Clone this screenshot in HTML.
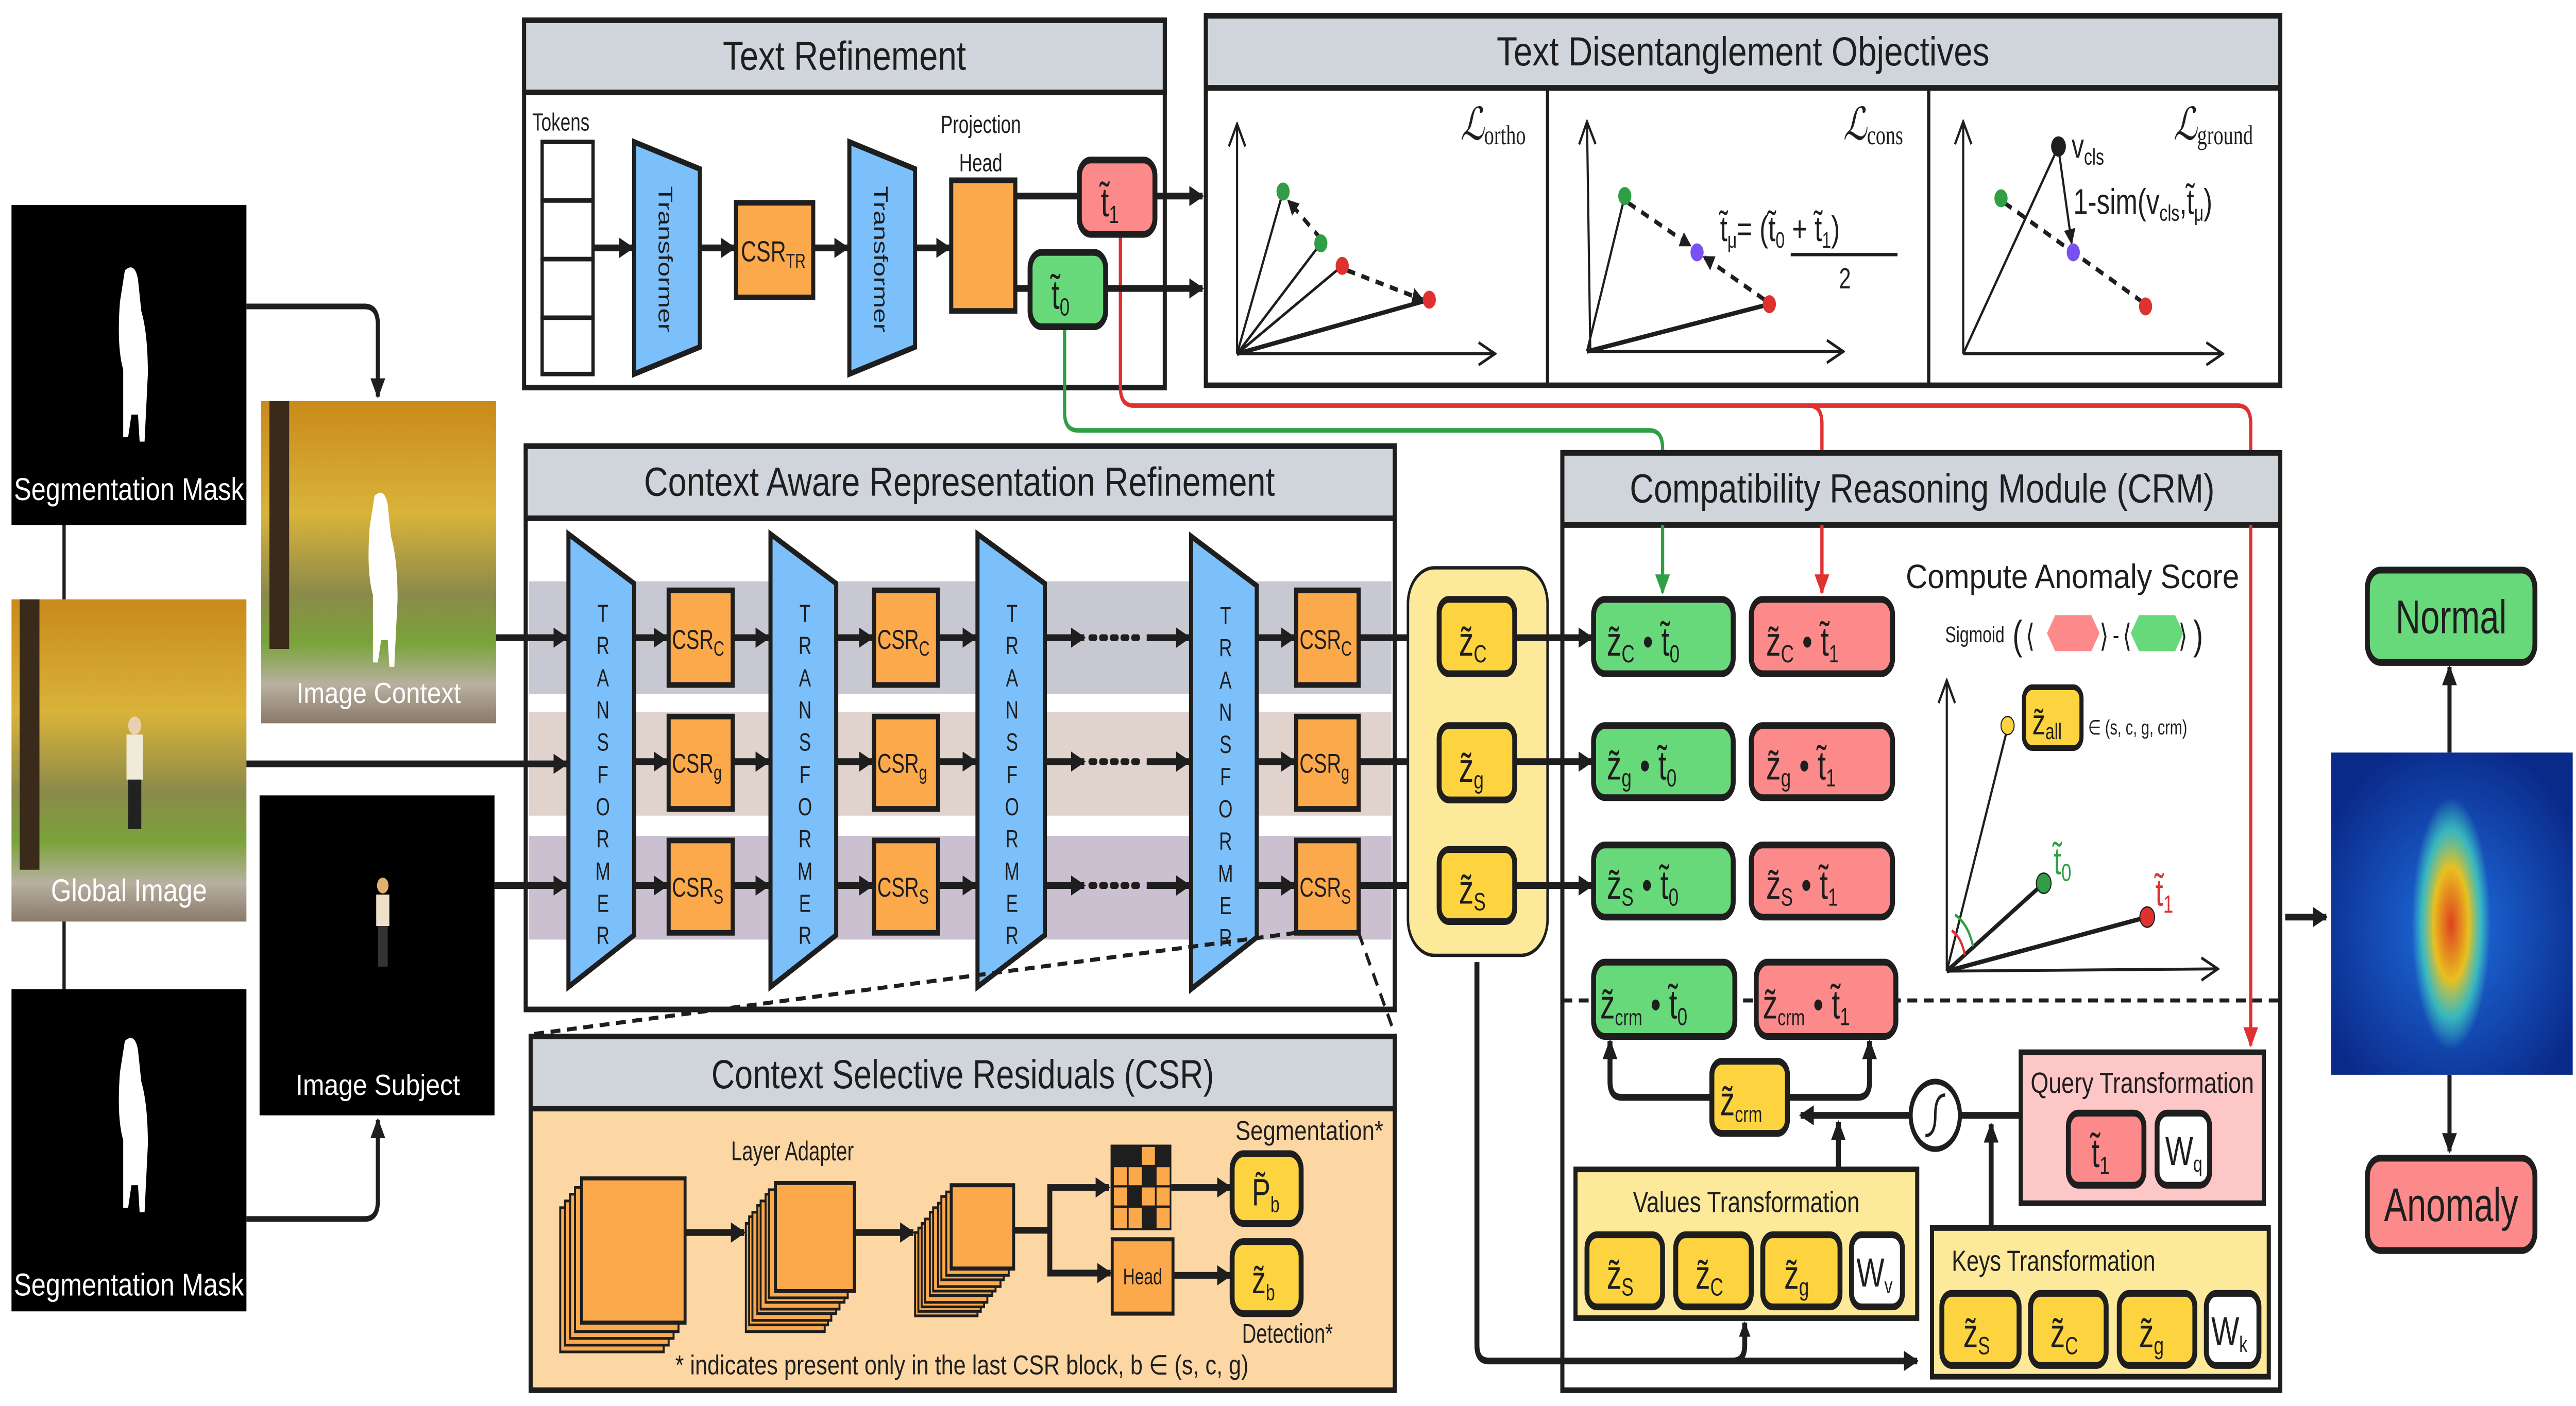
<!DOCTYPE html>
<html><head><meta charset="utf-8"><style>
html,body{margin:0;padding:0;background:#fff;width:100%;height:100%;overflow:hidden;}
svg{display:block;position:fixed;left:0;top:0;width:100vw;height:100vh;}
text{font-family:"Liberation Sans",sans-serif;fill:#1e1e1e;}
</style></head><body>
<svg viewBox="0 0 1568 624" preserveAspectRatio="none" xmlns="http://www.w3.org/2000/svg">
<defs>
<marker id="ah" viewBox="0 0 10 10" refX="9" refY="5" markerWidth="9" markerHeight="9" markerUnits="userSpaceOnUse" orient="auto"><path d="M0,0 L10,5 L0,10 z" fill="#1e1e1e"/></marker>
<marker id="ahs" viewBox="0 0 10 10" refX="9" refY="5" markerWidth="7" markerHeight="7" markerUnits="userSpaceOnUse" orient="auto"><path d="M0,0 L10,5 L0,10 z" fill="#1e1e1e"/></marker>
<marker id="ag" viewBox="0 0 10 10" refX="9" refY="5" markerWidth="9" markerHeight="9" markerUnits="userSpaceOnUse" orient="auto"><path d="M0,0 L10,5 L0,10 z" fill="#2f9e44"/></marker>
<marker id="ar" viewBox="0 0 10 10" refX="9" refY="5" markerWidth="9" markerHeight="9" markerUnits="userSpaceOnUse" orient="auto"><path d="M0,0 L10,5 L0,10 z" fill="#e03131"/></marker>
<marker id="ao" viewBox="0 0 12 12" refX="11" refY="6" markerWidth="12" markerHeight="12" markerUnits="userSpaceOnUse" orient="auto"><path d="M1,1 L11,6 L1,11" fill="none" stroke="#1e1e1e" stroke-width="1.3"/></marker>
<linearGradient id="autumn" x1="0" y1="0" x2="0" y2="1">
<stop offset="0" stop-color="#c98a1a"/><stop offset="0.35" stop-color="#d9b33a"/><stop offset="0.6" stop-color="#8a8a4a"/><stop offset="0.75" stop-color="#7aa33a"/><stop offset="0.88" stop-color="#b8b0a0"/><stop offset="1" stop-color="#8a7a6a"/></linearGradient>
<radialGradient id="heat" cx="0.5" cy="0.55" r="0.6"><stop offset="0" stop-color="#1f6fe0"/><stop offset="1" stop-color="#0a2a8a"/></radialGradient>
<radialGradient id="hot" cx="0.5" cy="0.5" r="0.5"><stop offset="0" stop-color="#e04020"/><stop offset="0.45" stop-color="#e8c020"/><stop offset="0.75" stop-color="#40d0c0" stop-opacity="0.8"/><stop offset="1" stop-color="#40d0c0" stop-opacity="0"/></radialGradient>
</defs>

<rect x="7" y="91" width="143" height="142" fill="#000"/>
<path d="M76,120 q6,-4 8,4 l2,14 q4,10 4,28 l-2,30 h-3 l-1,-12 h-4 l-2,10 h-3 l0,-30 q-4,-10 -2,-30 z" fill="#fff"/>
<text x="78.5" y="222" text-anchor="middle" font-size="14" style="fill:#fff" textLength="140" lengthAdjust="spacingAndGlyphs">Segmentation Mask</text>
<line x1="39" y1="233" x2="39" y2="266" stroke="#1e1e1e" stroke-width="2"/>
<rect x="7" y="266" width="143" height="143" fill="url(#autumn)"/>
<rect x="12" y="266" width="12" height="120" fill="#3a2a1a"/>
<circle cx="82" cy="322" r="4" fill="#e8d0b0"/><rect x="77" y="326" width="10" height="20" fill="#f0ead8"/><rect x="78" y="346" width="8" height="22" fill="#222"/>
<text x="78.5" y="400" text-anchor="middle" font-size="14" style="fill:#fff" textLength="95" lengthAdjust="spacingAndGlyphs">Global Image</text>
<line x1="39" y1="409" x2="39" y2="439" stroke="#1e1e1e" stroke-width="2"/>
<rect x="7" y="439" width="143" height="143" fill="#000"/>
<path d="M76,462 q6,-4 8,4 l2,14 q4,10 4,28 l-2,30 h-3 l-1,-12 h-4 l-2,10 h-3 l0,-30 q-4,-10 -2,-30 z" fill="#fff"/>
<text x="78.5" y="575" text-anchor="middle" font-size="14" style="fill:#fff" textLength="140" lengthAdjust="spacingAndGlyphs">Segmentation Mask</text>

<rect x="159" y="178" width="143" height="143" fill="url(#autumn)"/>
<rect x="164" y="178" width="12" height="110" fill="#3a2a1a"/>
<path d="M228,220 q6,-4 8,4 l2,14 q4,10 4,28 l-2,30 h-3 l-1,-12 h-4 l-2,10 h-3 l0,-30 q-4,-10 -2,-30 z" fill="#fff"/>
<text x="230.5" y="312" text-anchor="middle" font-size="13" style="fill:#fff" textLength="100" lengthAdjust="spacingAndGlyphs">Image Context</text>
<rect x="158" y="353" width="143" height="142" fill="#000"/>
<circle cx="233" cy="393" r="3.5" fill="#e0b070"/><rect x="229" y="397" width="8" height="14" fill="#eee0c8"/><rect x="230" y="411" width="6" height="18" fill="#333"/>
<text x="230" y="486" text-anchor="middle" font-size="13" style="fill:#fff" textLength="100" lengthAdjust="spacingAndGlyphs">Image Subject</text>

<path d="M150,136 H222 Q230,136 230,144 V176" fill="none" stroke="#1e1e1e" stroke-width="2.5" marker-end="url(#ah)"/>
<path d="M150,541 H222 Q230,541 230,533 V497" fill="none" stroke="#1e1e1e" stroke-width="2.5" marker-end="url(#ah)"/>

<rect x="319" y="9" width="390" height="163" fill="#fff" stroke="#1e1e1e" stroke-width="2.5"/>
<rect x="319" y="9" width="390" height="32" fill="#d0d5dc" stroke="#1e1e1e" stroke-width="2.5"/>
<text x="514" y="31" text-anchor="middle" font-size="18" textLength="148" lengthAdjust="spacingAndGlyphs">Text Refinement</text>
<text x="324" y="58" font-size="11">Tokens</text>
<g fill="#fff" stroke="#1e1e1e" stroke-width="2"><rect x="330" y="63" width="31" height="26"/><rect x="330" y="89" width="31" height="26"/><rect x="330" y="115" width="31" height="26"/><rect x="330" y="141" width="31" height="25"/></g>
<polygon points="386,63 426,75 426,154 386,166" fill="#7cc0fb" stroke="#1e1e1e" stroke-width="2.5"/>
<text transform="translate(401,115) rotate(90)" text-anchor="middle" font-size="12">Transformer</text>
<rect x="448" y="90" width="47" height="42" fill="#fca94b" stroke="#1e1e1e" stroke-width="2.5"/>
<text x="451" y="116" font-size="13">CSR<tspan font-size="9" dy="3">TR</tspan></text>
<polygon points="517,63 557,75 557,154 517,166" fill="#7cc0fb" stroke="#1e1e1e" stroke-width="2.5"/>
<text transform="translate(532,115) rotate(90)" text-anchor="middle" font-size="12">Transformer</text>
<text x="597" y="59" text-anchor="middle" font-size="11">Projection</text>
<text x="597" y="76" text-anchor="middle" font-size="11">Head</text>
<rect x="579" y="80" width="39" height="58" fill="#fca94b" stroke="#1e1e1e" stroke-width="2.5"/>
<g stroke="#1e1e1e" stroke-width="3" marker-end="url(#ah)"><line x1="361" y1="110" x2="385" y2="110"/><line x1="426" y1="110" x2="447" y2="110"/><line x1="495" y1="110" x2="516" y2="110"/><line x1="557" y1="110" x2="578" y2="110"/></g>
<line x1="618" y1="87" x2="657" y2="87" stroke="#1e1e1e" stroke-width="3"/>
<line x1="618" y1="128" x2="627" y2="128" stroke="#1e1e1e" stroke-width="3"/>
<path d="M682,104 V172 Q682,180 690,180 H1362 Q1370,180 1370,188 V463" fill="none" stroke="#e03131" stroke-width="2" marker-end="url(#ar)"/>
<path d="M1101,180 Q1109,180 1109,188 V263" fill="none" stroke="#e03131" stroke-width="2" marker-end="url(#ar)"/>
<path d="M648,145 V183 Q648,191 656,191 H1004 Q1012,191 1012,199 V263" fill="none" stroke="#2f9e44" stroke-width="2" marker-end="url(#ag)"/>
<rect x="657" y="71" width="46" height="33" rx="7" fill="#fc8a8a" stroke="#1e1e1e" stroke-width="3"/>
<text x="670" y="96" font-size="18">t̃<tspan font-size="11" dy="3">1</tspan></text>
<rect x="627" y="112" width="46" height="33" rx="7" fill="#68d97a" stroke="#1e1e1e" stroke-width="3"/>
<text x="640" y="137" font-size="18">t̃<tspan font-size="11" dy="3">0</tspan></text>
<g stroke="#1e1e1e" stroke-width="3" marker-end="url(#ah)"><line x1="703" y1="87" x2="732" y2="87"/><line x1="673" y1="128" x2="732" y2="128"/></g>

<rect x="734" y="7" width="654" height="164" fill="#fff" stroke="#1e1e1e" stroke-width="2.5"/>
<rect x="734" y="7" width="654" height="32" fill="#d0d5dc" stroke="#1e1e1e" stroke-width="2.5"/>
<text x="1061" y="29" text-anchor="middle" font-size="18" textLength="300" lengthAdjust="spacingAndGlyphs">Text Disentanglement Objectives</text>
<line x1="942" y1="39" x2="942" y2="171" stroke="#1e1e1e" stroke-width="2"/>
<line x1="1174" y1="39" x2="1174" y2="171" stroke="#1e1e1e" stroke-width="2"/>
<g stroke="#1e1e1e" stroke-width="1.3" fill="none">
<line x1="753" y1="157" x2="753" y2="55" marker-end="url(#ao)"/><line x1="753" y1="157" x2="910" y2="157" marker-end="url(#ao)"/>
<line x1="753" y1="157" x2="781" y2="85"/><line x1="753" y1="157" x2="804" y2="108"/><line x1="753" y1="157" x2="817" y2="118"/><line x1="753" y1="157" x2="870" y2="133" stroke-width="2"/>
<line x1="968" y1="156" x2="966" y2="54" marker-end="url(#ao)"/><line x1="966" y1="156" x2="1122" y2="156" marker-end="url(#ao)"/>
<line x1="966" y1="156" x2="989" y2="87"/><line x1="966" y1="156" x2="1077" y2="135" stroke-width="2"/>
<line x1="1195" y1="157" x2="1195" y2="54" marker-end="url(#ao)"/><line x1="1195" y1="157" x2="1353" y2="157" marker-end="url(#ao)"/>
<line x1="1195" y1="157" x2="1253" y2="65"/>
</g>
<g stroke="#1e1e1e" stroke-width="2" stroke-dasharray="5,4" fill="none">
<line x1="804" y1="106" x2="784" y2="89" marker-end="url(#ahs)"/><line x1="820" y1="120" x2="866" y2="133" marker-end="url(#ahs)"/>
<line x1="991" y1="90" x2="1029" y2="109" marker-end="url(#ahs)"/><line x1="1074" y1="133" x2="1037" y2="114" marker-end="url(#ahs)"/>
<line x1="1220" y1="90" x2="1304" y2="134"/>
</g>
<line x1="1253" y1="66" x2="1261" y2="108" stroke="#1e1e1e" stroke-width="1.3" marker-end="url(#ahs)"/>
<circle cx="781" cy="85" r="4" fill="#2f9e44"/><circle cx="804" cy="108" r="4" fill="#2f9e44"/><circle cx="817" cy="118" r="4" fill="#e03131"/><circle cx="870" cy="133" r="4" fill="#e03131"/>
<circle cx="989" cy="87" r="4" fill="#2f9e44"/><circle cx="1033" cy="112" r="4" fill="#7950f2"/><circle cx="1077" cy="135" r="4" fill="#e03131"/>
<circle cx="1253" cy="65" r="4.5" fill="#1e1e1e"/><circle cx="1218" cy="88" r="4" fill="#2f9e44"/><circle cx="1262" cy="112" r="4" fill="#7950f2"/><circle cx="1306" cy="136" r="4" fill="#e03131"/>
<text x="889" y="62" font-size="20" font-style="italic" style="font-family:'Liberation Serif',serif">ℒ<tspan font-size="12" font-style="normal" dy="2">ortho</tspan></text>
<text x="1122" y="62" font-size="20" font-style="italic" style="font-family:'Liberation Serif',serif">ℒ<tspan font-size="12" font-style="normal" dy="2">cons</tspan></text>
<text x="1323" y="62" font-size="20" font-style="italic" style="font-family:'Liberation Serif',serif">ℒ<tspan font-size="12" font-style="normal" dy="2">ground</tspan></text>
<text x="1047" y="107" font-size="16">t̃<tspan font-size="10" dy="3">μ</tspan><tspan dy="-3">= (t̃</tspan><tspan font-size="10" dy="3">0</tspan><tspan dy="-3"> + t̃</tspan><tspan font-size="10" dy="3">1</tspan><tspan dy="-3">)</tspan></text>
<line x1="1090" y1="113" x2="1155" y2="113" stroke="#1e1e1e" stroke-width="1.5"/>
<text x="1123" y="128" text-anchor="middle" font-size="13">2</text>
<text x="1261" y="70" font-size="15">v<tspan font-size="10" dy="3">cls</tspan></text>
<text x="1262" y="95" font-size="16">1-sim(v<tspan font-size="10" dy="3">cls</tspan><tspan dy="-3">,t̃</tspan><tspan font-size="10" dy="3">μ</tspan><tspan dy="-3">)</tspan></text>

<rect x="320" y="198" width="529" height="250" fill="#fff" stroke="#1e1e1e" stroke-width="2.5"/>
<rect x="322" y="258" width="525" height="50" fill="#c8c8d2"/>
<rect x="322" y="316" width="525" height="46" fill="#e0d2cc"/>
<rect x="322" y="371" width="525" height="46" fill="#cbc0d0"/>
<rect x="320" y="198" width="529" height="32" fill="#d0d5dc" stroke="#1e1e1e" stroke-width="2.5"/>
<text x="584" y="220" text-anchor="middle" font-size="18" textLength="384" lengthAdjust="spacingAndGlyphs">Context Aware Representation Refinement</text>
<g stroke="#1e1e1e" stroke-width="2.5" fill="#7cc0fb">
<polygon points="346,237 386,259 386,415 346,438"/><polygon points="469,237 509,259 509,415 469,438"/><polygon points="595,237 636,259 636,415 595,438"/><polygon points="725,238 765,260 765,416 725,439"/>
</g>
<g font-size="11" text-anchor="middle">
<text><tspan x="367" y="276">T</tspan><tspan x="367" dy="14.3">R</tspan><tspan x="367" dy="14.3">A</tspan><tspan x="367" dy="14.3">N</tspan><tspan x="367" dy="14.3">S</tspan><tspan x="367" dy="14.3">F</tspan><tspan x="367" dy="14.3">O</tspan><tspan x="367" dy="14.3">R</tspan><tspan x="367" dy="14.3">M</tspan><tspan x="367" dy="14.3">E</tspan><tspan x="367" dy="14.3">R</tspan></text>
<text><tspan x="490" y="276">T</tspan><tspan x="490" dy="14.3">R</tspan><tspan x="490" dy="14.3">A</tspan><tspan x="490" dy="14.3">N</tspan><tspan x="490" dy="14.3">S</tspan><tspan x="490" dy="14.3">F</tspan><tspan x="490" dy="14.3">O</tspan><tspan x="490" dy="14.3">R</tspan><tspan x="490" dy="14.3">M</tspan><tspan x="490" dy="14.3">E</tspan><tspan x="490" dy="14.3">R</tspan></text>
<text><tspan x="616" y="276">T</tspan><tspan x="616" dy="14.3">R</tspan><tspan x="616" dy="14.3">A</tspan><tspan x="616" dy="14.3">N</tspan><tspan x="616" dy="14.3">S</tspan><tspan x="616" dy="14.3">F</tspan><tspan x="616" dy="14.3">O</tspan><tspan x="616" dy="14.3">R</tspan><tspan x="616" dy="14.3">M</tspan><tspan x="616" dy="14.3">E</tspan><tspan x="616" dy="14.3">R</tspan></text>
<text><tspan x="746" y="277">T</tspan><tspan x="746" dy="14.3">R</tspan><tspan x="746" dy="14.3">A</tspan><tspan x="746" dy="14.3">N</tspan><tspan x="746" dy="14.3">S</tspan><tspan x="746" dy="14.3">F</tspan><tspan x="746" dy="14.3">O</tspan><tspan x="746" dy="14.3">R</tspan><tspan x="746" dy="14.3">M</tspan><tspan x="746" dy="14.3">E</tspan><tspan x="746" dy="14.3">R</tspan></text>
</g>
<g fill="#fca94b" stroke="#1e1e1e" stroke-width="2.5">
<rect x="407" y="262" width="39" height="42"/><rect x="532" y="262" width="39" height="42"/><rect x="789" y="262" width="38" height="42"/>
<rect x="407" y="318" width="39" height="41"/><rect x="532" y="318" width="39" height="41"/><rect x="789" y="318" width="38" height="41"/>
<rect x="407" y="373" width="39" height="41"/><rect x="532" y="373" width="39" height="41"/><rect x="789" y="373" width="38" height="41"/>
</g>
<g font-size="12">
<text x="409" y="288">CSR<tspan font-size="9" dy="3">C</tspan></text><text x="534" y="288">CSR<tspan font-size="9" dy="3">C</tspan></text><text x="791" y="288">CSR<tspan font-size="9" dy="3">C</tspan></text>
<text x="409" y="343">CSR<tspan font-size="9" dy="3">g</tspan></text><text x="534" y="343">CSR<tspan font-size="9" dy="3">g</tspan></text><text x="791" y="343">CSR<tspan font-size="9" dy="3">g</tspan></text>
<text x="409" y="398">CSR<tspan font-size="9" dy="3">S</tspan></text><text x="534" y="398">CSR<tspan font-size="9" dy="3">S</tspan></text><text x="791" y="398">CSR<tspan font-size="9" dy="3">S</tspan></text>
</g>
<g stroke="#1e1e1e" stroke-width="3" marker-end="url(#ah)">
<line x1="302" y1="283" x2="345" y2="283"/><line x1="150" y1="339" x2="345" y2="339"/><line x1="301" y1="393" x2="345" y2="393"/>
<line x1="386" y1="283" x2="406" y2="283"/><line x1="446" y1="283" x2="468" y2="283"/><line x1="509" y1="283" x2="531" y2="283"/><line x1="571" y1="283" x2="594" y2="283"/><line x1="636" y1="283" x2="660" y2="283"/><line x1="698" y1="283" x2="724" y2="283"/><line x1="765" y1="283" x2="788" y2="283"/><line x1="827" y1="283" x2="875" y2="283"/>
<line x1="386" y1="338" x2="406" y2="338"/><line x1="446" y1="338" x2="468" y2="338"/><line x1="509" y1="338" x2="531" y2="338"/><line x1="571" y1="338" x2="594" y2="338"/><line x1="636" y1="338" x2="660" y2="338"/><line x1="698" y1="338" x2="724" y2="338"/><line x1="765" y1="338" x2="788" y2="338"/><line x1="827" y1="338" x2="875" y2="338"/>
<line x1="386" y1="393" x2="406" y2="393"/><line x1="446" y1="393" x2="468" y2="393"/><line x1="509" y1="393" x2="531" y2="393"/><line x1="571" y1="393" x2="594" y2="393"/><line x1="636" y1="393" x2="660" y2="393"/><line x1="698" y1="393" x2="724" y2="393"/><line x1="765" y1="393" x2="788" y2="393"/><line x1="827" y1="393" x2="875" y2="393"/>
</g>
<g stroke="#1e1e1e" stroke-width="3" stroke-dasharray="2.5,4" stroke-linecap="round"><line x1="664" y1="283" x2="696" y2="283"/><line x1="664" y1="338" x2="696" y2="338"/><line x1="664" y1="393" x2="696" y2="393"/></g>
<g stroke="#1e1e1e" stroke-width="1.8" stroke-dasharray="6,4"><line x1="789" y1="414" x2="324" y2="459"/><line x1="827" y1="414" x2="849" y2="459"/></g>

<rect x="323" y="460" width="526" height="157" fill="#fcd7a4" stroke="#1e1e1e" stroke-width="2.5"/>
<rect x="323" y="460" width="526" height="32" fill="#d0d5dc" stroke="#1e1e1e" stroke-width="2.5"/>
<text x="586" y="483" text-anchor="middle" font-size="18" textLength="306" lengthAdjust="spacingAndGlyphs">Context Selective Residuals (CSR)</text>
<text x="445" y="515" font-size="12">Layer Adapter</text>
<g fill="#fca94b" stroke="#1e1e1e" stroke-width="1.2">
<rect x="341" y="536" width="63" height="64"/><rect x="344" y="533" width="63" height="64"/><rect x="347" y="530" width="63" height="64"/><rect x="350" y="527" width="63" height="64"/><rect x="354" y="523" width="63" height="64" stroke-width="1.8"/>
<rect x="454" y="543" width="48" height="48"/><rect x="456" y="540" width="48" height="48"/><rect x="458" y="538" width="48" height="48"/><rect x="461" y="535" width="48" height="48"/><rect x="463" y="533" width="48" height="48"/><rect x="466" y="530" width="48" height="48"/><rect x="468" y="528" width="48" height="48"/><rect x="472" y="525" width="48" height="48" stroke-width="1.8"/>
<rect x="557" y="547" width="38" height="37"/><rect x="559" y="545" width="38" height="37"/><rect x="561" y="543" width="38" height="37"/><rect x="563" y="541" width="38" height="37"/><rect x="566" y="538" width="38" height="37"/><rect x="568" y="536" width="38" height="37"/><rect x="571" y="534" width="38" height="37"/><rect x="573" y="531" width="38" height="37"/><rect x="576" y="529" width="38" height="37"/><rect x="579" y="526" width="38" height="37" stroke-width="1.8"/>
</g>
<g stroke="#1e1e1e" stroke-width="3" fill="none">
<line x1="417" y1="547" x2="453" y2="547" marker-end="url(#ah)"/><line x1="520" y1="547" x2="556" y2="547" marker-end="url(#ah)"/>
<path d="M617,546 H639 V527 H675" marker-end="url(#ah)"/><path d="M639,546 V565 H676" marker-end="url(#ah)"/>
<line x1="713" y1="527" x2="749" y2="527" marker-end="url(#ah)"/><line x1="714" y1="566" x2="749" y2="566" marker-end="url(#ah)"/>
</g>
<rect x="676" y="508" width="37" height="38" fill="#1e1e1e"/>
<g fill="#fca94b"><rect x="695" y="509" width="8" height="8"/><rect x="678" y="518" width="8" height="8"/><rect x="687" y="518" width="8" height="8"/><rect x="704" y="518" width="8" height="8"/><rect x="678" y="527" width="8" height="8"/><rect x="695" y="527" width="8" height="8"/><rect x="704" y="527" width="8" height="8"/><rect x="678" y="536" width="8" height="9"/><rect x="687" y="536" width="8" height="9"/><rect x="704" y="536" width="8" height="9"/></g>
<rect x="677" y="550" width="37" height="33" fill="#fca94b" stroke="#1e1e1e" stroke-width="1.8"/>
<text x="695.5" y="570" text-anchor="middle" font-size="10">Head</text>
<rect x="750" y="512" width="42" height="31" rx="7" fill="#fdd43f" stroke="#1e1e1e" stroke-width="3"/>
<text x="762" y="535" font-size="17">P̃<tspan font-size="10" dy="3">b</tspan></text>
<rect x="750" y="551" width="42" height="32" rx="7" fill="#fdd43f" stroke="#1e1e1e" stroke-width="3"/>
<text x="762" y="574" font-size="17">z̃<tspan font-size="10" dy="3">b</tspan></text>
<text x="752" y="506" font-size="12" textLength="90" lengthAdjust="spacingAndGlyphs">Segmentation*</text>
<text x="756" y="596" font-size="12">Detection*</text>
<text x="411" y="610" font-size="12" textLength="349" lengthAdjust="spacingAndGlyphs">* indicates present only in the last CSR block, b ∈ (s, c, g)</text>

<rect x="857" y="252" width="85" height="172" rx="16" fill="#fde99a" stroke="#1e1e1e" stroke-width="1.5"/>
<g fill="#fdd43f" stroke="#1e1e1e" stroke-width="3">
<rect x="876" y="266" width="46" height="33" rx="6"/><rect x="876" y="322" width="46" height="33" rx="6"/><rect x="876" y="377" width="46" height="32" rx="6"/></g>
<g font-size="18"><text x="888" y="291">z̃<tspan font-size="11" dy="3">C</tspan></text><text x="888" y="347">z̃<tspan font-size="11" dy="3">g</tspan></text><text x="888" y="401">z̃<tspan font-size="11" dy="3">S</tspan></text></g>

<rect x="951" y="201" width="437" height="416" fill="#fff" stroke="#1e1e1e" stroke-width="2.5"/>
<rect x="951" y="201" width="437" height="32" fill="#d0d5dc" stroke="#1e1e1e" stroke-width="2.5"/>
<text x="1170" y="223" text-anchor="middle" font-size="18" textLength="356" lengthAdjust="spacingAndGlyphs">Compatibility Reasoning Module (CRM)</text>
<line x1="1012" y1="233" x2="1012" y2="263" stroke="#2f9e44" stroke-width="2" marker-end="url(#ag)"/>
<line x1="1109" y1="233" x2="1109" y2="263" stroke="#e03131" stroke-width="2" marker-end="url(#ar)"/>
<line x1="1370" y1="233" x2="1370" y2="464" stroke="#e03131" stroke-width="2" marker-end="url(#ar)"/>
<g stroke="#1e1e1e" stroke-width="3" marker-end="url(#ah)"><line x1="922" y1="283" x2="969" y2="283"/><line x1="922" y1="338" x2="969" y2="338"/><line x1="922" y1="393" x2="969" y2="393"/></g>
<line x1="951" y1="444" x2="1388" y2="444" stroke="#1e1e1e" stroke-width="1.8" stroke-dasharray="6,4"/>
<g stroke="#1e1e1e" stroke-width="3">
<rect x="970" y="266" width="85" height="33" rx="7" fill="#68d97a"/><rect x="1066" y="266" width="86" height="33" rx="7" fill="#fc8a8a"/>
<rect x="970" y="322" width="85" height="32" rx="7" fill="#68d97a"/><rect x="1066" y="322" width="86" height="32" rx="7" fill="#fc8a8a"/>
<rect x="970" y="375" width="85" height="32" rx="7" fill="#68d97a"/><rect x="1066" y="375" width="86" height="32" rx="7" fill="#fc8a8a"/>
<rect x="970" y="427" width="86" height="33" rx="7" fill="#68d97a"/><rect x="1069" y="427" width="85" height="33" rx="7" fill="#fc8a8a"/>
</g>
<g font-size="18">
<text x="978" y="291">z̃<tspan font-size="11" dy="3">C</tspan><tspan dy="-3"> • t̃</tspan><tspan font-size="11" dy="3">0</tspan></text>
<text x="1075" y="291">z̃<tspan font-size="11" dy="3">C</tspan><tspan dy="-3"> • t̃</tspan><tspan font-size="11" dy="3">1</tspan></text>
<text x="978" y="346">z̃<tspan font-size="11" dy="3">g</tspan><tspan dy="-3"> • t̃</tspan><tspan font-size="11" dy="3">0</tspan></text>
<text x="1075" y="346">z̃<tspan font-size="11" dy="3">g</tspan><tspan dy="-3"> • t̃</tspan><tspan font-size="11" dy="3">1</tspan></text>
<text x="978" y="399">z̃<tspan font-size="11" dy="3">S</tspan><tspan dy="-3"> • t̃</tspan><tspan font-size="11" dy="3">0</tspan></text>
<text x="1075" y="399">z̃<tspan font-size="11" dy="3">S</tspan><tspan dy="-3"> • t̃</tspan><tspan font-size="11" dy="3">1</tspan></text>
<text x="974" y="452">z̃<tspan font-size="10" dy="3">crm</tspan><tspan dy="-3"> • t̃</tspan><tspan font-size="11" dy="3">0</tspan></text>
<text x="1073" y="452">z̃<tspan font-size="10" dy="3">crm</tspan><tspan dy="-3"> • t̃</tspan><tspan font-size="11" dy="3">1</tspan></text>
</g>
<text x="1160" y="261" font-size="15" textLength="203" lengthAdjust="spacingAndGlyphs">Compute Anomaly Score</text>
<text x="1184" y="285" font-size="10">Sigmoid</text>
<text x="1225" y="288" font-size="18">(</text><text x="1335" y="288" font-size="18">)</text>
<text x="1233" y="287" font-size="14">⟨</text><text x="1278" y="287" font-size="14">⟩</text><text x="1286" y="286" font-size="12">-</text><text x="1292" y="287" font-size="14">⟨</text><text x="1326" y="287" font-size="14">⟩</text>
<polygon points="1246,281 1251,273 1273,273 1278,281 1273,289 1251,289" fill="#fc8a8a"/>
<polygon points="1297,281 1302,273 1324,273 1329,281 1324,289 1302,289" fill="#68d97a"/>
<g stroke="#1e1e1e" stroke-width="1.3" fill="none">
<line x1="1185" y1="431" x2="1185" y2="302" marker-end="url(#ao)"/><line x1="1185" y1="431" x2="1350" y2="430" marker-end="url(#ao)"/>
<line x1="1185" y1="431" x2="1222" y2="323"/><line x1="1185" y1="431" x2="1244" y2="392" stroke-width="2"/><line x1="1185" y1="431" x2="1307" y2="407" stroke-width="2"/>
<path d="M1190,406 Q1198,410 1201,420" stroke="#2f9e44"/><path d="M1188,413 Q1194,416 1196,424" stroke="#e03131"/>
</g>
<circle cx="1222" cy="322" r="4" fill="#fdd43f" stroke="#1e1e1e" stroke-width="0.6"/>
<circle cx="1244" cy="392" r="4.5" fill="#2f9e44" stroke="#1e1e1e" stroke-width="0.6"/>
<circle cx="1307" cy="407" r="4.5" fill="#e03131" stroke="#1e1e1e" stroke-width="0.6"/>
<rect x="1232" y="305" width="35" height="27" rx="5" fill="#fdd43f" stroke="#1e1e1e" stroke-width="2.5"/>
<text x="1237" y="326" font-size="16">z̃<tspan font-size="10" dy="2">all</tspan></text>
<text x="1271" y="326" font-size="9">∈ (s, c, g, crm)</text>
<text x="1250" y="388" font-size="17" style="fill:#2f9e44">t̃<tspan font-size="11" dy="3">0</tspan></text>
<text x="1312" y="402" font-size="17" style="fill:#e03131">t̃<tspan font-size="11" dy="3">1</tspan></text>
<g stroke="#1e1e1e" stroke-width="3" fill="none">
<path d="M1042,487 H987 Q980,487 980,480 V462" marker-end="url(#ah)"/>
<path d="M1088,487 H1131 Q1138,487 1138,480 V462" marker-end="url(#ah)"/>
<line x1="1163" y1="495" x2="1096" y2="495" marker-end="url(#ah)"/>
<line x1="1230" y1="495" x2="1194" y2="495"/>
<line x1="1119" y1="518" x2="1119" y2="498" marker-end="url(#ah)"/>
<line x1="1212" y1="545" x2="1212" y2="499" marker-end="url(#ah)"/>
<path d="M899,427 V597 Q899,604 906,604 H1167" marker-end="url(#ah)"/>
<path d="M1055,604 Q1062,604 1062,597 V587" marker-end="url(#ahs)"/>
</g>
<rect x="1042" y="471" width="46" height="32" rx="6" fill="#fdd43f" stroke="#1e1e1e" stroke-width="3"/>
<text x="1047" y="495" font-size="18">z̃<tspan font-size="10" dy="3">crm</tspan></text>
<circle cx="1178" cy="495" r="15" fill="#fff" stroke="#1e1e1e" stroke-width="2.5"/>
<path d="M1172,504 Q1178,504 1178,495 Q1178,486 1184,486" fill="none" stroke="#1e1e1e" stroke-width="1.5"/>
<rect x="1230" y="467" width="148" height="67" fill="#fdc7c7" stroke="#1e1e1e" stroke-width="2.5"/>
<text x="1236" y="485" font-size="13" textLength="136" lengthAdjust="spacingAndGlyphs">Query Transformation</text>
<rect x="1259" y="494" width="46" height="32" rx="6" fill="#fc8a8a" stroke="#1e1e1e" stroke-width="3"/>
<text x="1273" y="518" font-size="18">t̃<tspan font-size="11" dy="3">1</tspan></text>
<rect x="1313" y="494" width="32" height="32" rx="6" fill="#fff" stroke="#1e1e1e" stroke-width="3"/>
<text x="1318" y="517" font-size="18">W<tspan font-size="10" dy="3">q</tspan></text>
<rect x="959" y="519" width="208" height="66" fill="#fde99a" stroke="#1e1e1e" stroke-width="2.5"/>
<text x="1063" y="538" text-anchor="middle" font-size="13" textLength="138" lengthAdjust="spacingAndGlyphs">Values Transformation</text>
<g stroke="#1e1e1e" stroke-width="3"><rect x="966" y="548" width="46" height="32" rx="6" fill="#fdd43f"/><rect x="1020" y="548" width="46" height="32" rx="6" fill="#fdd43f"/><rect x="1073" y="548" width="47" height="32" rx="6" fill="#fdd43f"/><rect x="1127" y="548" width="31" height="32" rx="6" fill="#fff"/></g>
<g font-size="18"><text x="978" y="572">z̃<tspan font-size="11" dy="3">S</tspan></text><text x="1032" y="572">z̃<tspan font-size="11" dy="3">C</tspan></text><text x="1086" y="572">z̃<tspan font-size="11" dy="3">g</tspan></text><text x="1130" y="571">W<tspan font-size="10" dy="3">v</tspan></text></g>
<rect x="1176" y="545" width="205" height="66" fill="#fde99a" stroke="#1e1e1e" stroke-width="2.5"/>
<text x="1250" y="564" text-anchor="middle" font-size="13" textLength="124" lengthAdjust="spacingAndGlyphs">Keys Transformation</text>
<g stroke="#1e1e1e" stroke-width="3"><rect x="1182" y="574" width="47" height="32" rx="6" fill="#fdd43f"/><rect x="1236" y="574" width="46" height="32" rx="6" fill="#fdd43f"/><rect x="1290" y="574" width="46" height="32" rx="6" fill="#fdd43f"/><rect x="1343" y="574" width="32" height="32" rx="6" fill="#fff"/></g>
<g font-size="18"><text x="1195" y="598">z̃<tspan font-size="11" dy="3">S</tspan></text><text x="1248" y="598">z̃<tspan font-size="11" dy="3">C</tspan></text><text x="1302" y="598">z̃<tspan font-size="11" dy="3">g</tspan></text><text x="1346" y="597">W<tspan font-size="10" dy="3">k</tspan></text></g>

<line x1="1391" y1="407" x2="1416" y2="407" stroke="#1e1e1e" stroke-width="3" marker-end="url(#ah)"/>
<rect x="1419" y="334" width="147" height="143" fill="url(#heat)"/>
<ellipse cx="1492" cy="410" rx="24" ry="56" fill="url(#hot)"/>
<line x1="1491" y1="334" x2="1491" y2="296" stroke="#1e1e1e" stroke-width="2.5" marker-end="url(#ah)"/>
<line x1="1491" y1="477" x2="1491" y2="511" stroke="#1e1e1e" stroke-width="2.5" marker-end="url(#ah)"/>
<rect x="1441" y="253" width="102" height="41" rx="8" fill="#68d97a" stroke="#1e1e1e" stroke-width="3"/>
<text x="1492" y="281" text-anchor="middle" font-size="21">Normal</text>
<rect x="1441" y="514" width="102" height="41" rx="8" fill="#fc8a8a" stroke="#1e1e1e" stroke-width="3"/>
<text x="1492" y="542" text-anchor="middle" font-size="21">Anomaly</text>
</svg>
</body></html>
